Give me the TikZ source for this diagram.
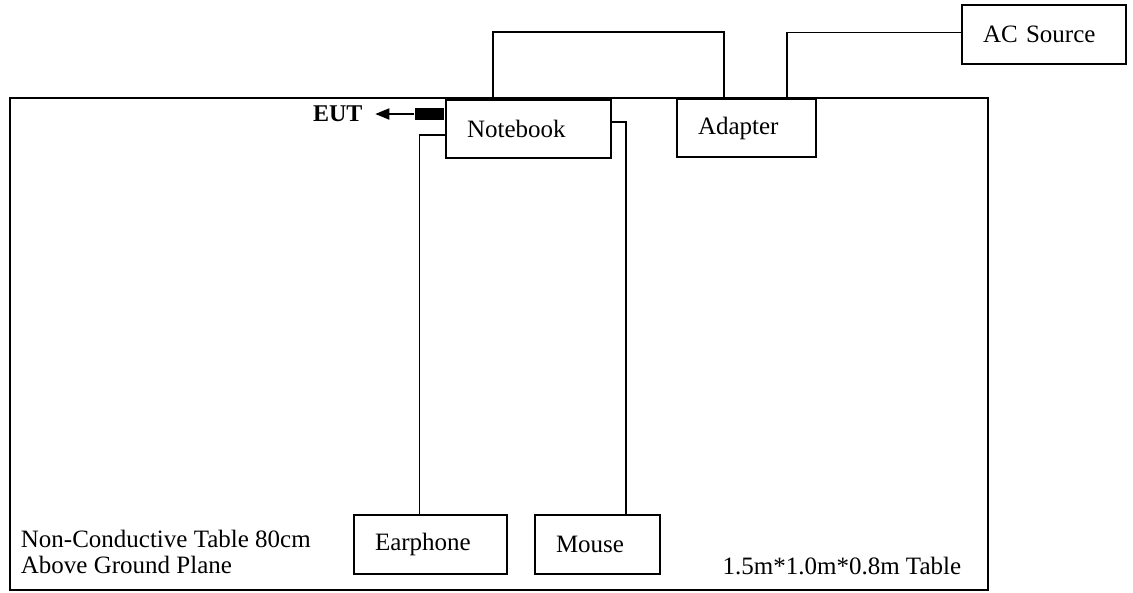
\documentclass[tikz,border=0pt]{standalone}
\usepackage{fontspec}
\setmainfont{Liberation Serif}
\usetikzlibrary{positioning,arrows.meta}

\begin{document}
\begin{tikzpicture}[x=1pt,y=1pt,line width=1.8pt,
  font=\fontsize{25}{25}\selectfont,
  box/.style={draw,inner xsep=21pt,inner ysep=0pt,align=left,minimum height=58pt}]
\useasboundingbox (0,0) rectangle (1133,592);
\draw (10,2) rectangle (988,494);
\node[box,fill=white,text width=123pt] (notebook) at (528.5,463) {Notebook};
\node[box,fill=white,text width=97pt] (adapter) at (746.5,464) {Adapter};
\node[box,text width=122pt,minimum height=59pt] (ac) at (1044,557.5) {AC Source};
\node[box,text width=111pt,minimum height=59pt] (earphone) at (430.5,47.5) {Earphone};
\node[box,text width=83pt,minimum height=59pt] (mouse) at (597.5,47.5) {Mouse};
\node[fill=black,inner sep=0,minimum width=29pt,minimum height=12pt,anchor=east] (plug) at ([yshift=15pt]notebook.west) {};
\node[inner sep=0,left=51pt of plug,font=\fontsize{24}{25}\selectfont\bfseries] (eut) {EUT};
\draw[-{Triangle[length=14pt,width=11pt]},shorten >=12pt] (plug.west) -- (eut.east);
\draw ([xshift=-35.5pt]notebook.north) -- ++(0,67) -| ([xshift=-22.5pt]adapter.north);
\draw ([xshift=40.5pt]adapter.north) |- ([yshift=2pt]ac.west);
\draw ([yshift=-6pt]notebook.west) -| ([xshift=-11pt]earphone.north);
\draw ([yshift=7pt]notebook.east) -| ([xshift=28.5pt]mouse.north);
\node[inner sep=0,anchor=base west] (notea) at (20,44) {Non-Conductive Table 80cm};
\node[inner sep=0,anchor=base west] (noteb) at (20,19) {Above Ground Plane};
\node[inner sep=0,anchor=base east] (tablesize) at (962,17) {1.5m*1.0m*0.8m Table};
\end{tikzpicture}
\end{document}
